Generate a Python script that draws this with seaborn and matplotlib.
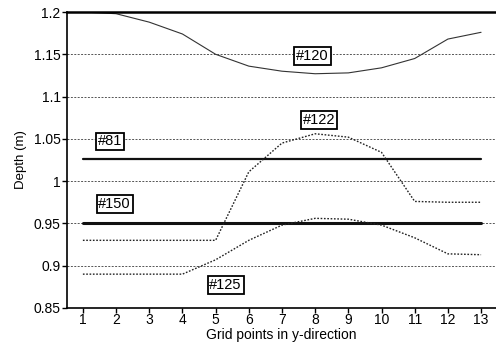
import matplotlib
matplotlib.use("Agg")
import matplotlib.pyplot as plt
import seaborn as sns
import pandas as pd
import numpy as np

grid_points = list(range(1, 14))
s120 = [1.200, 1.198, 1.188, 1.174, 1.150, 1.136, 1.130, 1.127, 1.128, 1.134, 1.145, 1.168, 1.176]
s81 = [1.026] * 13
s150 = [0.950] * 13
s122 = [0.930, 0.930, 0.930, 0.930, 0.930, 1.011, 1.045, 1.056, 1.052, 1.034, 0.976, 0.975, 0.975]
s125 = [0.890, 0.890, 0.890, 0.890, 0.907, 0.930, 0.948, 0.956, 0.955, 0.948, 0.933, 0.914, 0.913]

labels = ["#120", "#81", "#150", "#122", "#125"]
series = [s120, s81, s150, s122, s125]
label_pos = {"#120": (7.92, 1.148), "#81": (1.81, 1.047), "#150": (1.96, 0.973),
             "#122": (8.13, 1.072), "#125": (5.30, 0.877)}
yticks = [0.85, 0.9, 0.95, 1.0, 1.05, 1.1, 1.15, 1.2]
ytick_labels = ["0.85", "0.9", "0.95", "1", "1.05", "1.1", "1.15", "1.2"]

df = pd.concat([pd.DataFrame({"x": grid_points, "depth": s, "case": lab})
                for lab, s in zip(labels, series)], ignore_index=True)

sns.set_theme(style="white")
plt.rcParams['font.family'] = ['Liberation Sans', 'DejaVu Sans']

fig = plt.figure(figsize=(4.96, 3.48), dpi=100)
ax = fig.add_axes([0.135, 0.115, 0.865, 0.8505])

styles = {"#120": dict(lw=0.8, ls="-", color="#333333"),
          "#81": dict(lw=1.6, ls="-", color="#111111"),
          "#150": dict(lw=2.2, ls="-", color="#111111"),
          "#122": dict(lw=1.0, ls=(0, (1.2, 1.2)), color="#222222"),
          "#125": dict(lw=1.0, ls=(0, (1.2, 1.2)), color="#222222")}

for lab in labels:
    sub = df[df["case"] == lab]
    sns.lineplot(data=sub, x="x", y="depth", ax=ax, legend=False, **styles[lab])

for lab in labels:
    x, y = label_pos[lab]
    ax.text(x, y, lab, ha="center", va="center", fontsize=10.5, color="black",
            bbox=dict(boxstyle="square,pad=0.12", fc="white", ec="black", lw=1.3))

ax.set_xlim(0.52, 13.45)
ax.set_ylim(0.85, 1.2)
ax.set_xticks(grid_points)
ax.set_xticklabels([str(g) for g in grid_points])
ax.set_yticks(yticks)
ax.set_yticklabels(ytick_labels)
for yv in yticks[1:-1]:
    ax.axhline(yv, color="#555555", lw=0.7, ls=(0, (2, 1.5)), zorder=0)

ax.spines["right"].set_visible(False)
for sp in ["left", "bottom"]:
    ax.spines[sp].set_color("black")
    ax.spines[sp].set_linewidth(1.2)
ax.spines["top"].set_color("black")
ax.spines["top"].set_linewidth(1.8)

ax.tick_params(axis="both", direction="out", length=3.5, width=1, color="black",
               labelsize=10, labelcolor="black", pad=1, left=True, bottom=True)
ax.tick_params(axis="x", pad=0)
ax.set_xlabel("Grid points in y-direction", fontsize=10, color="black", labelpad=1)
ax.set_ylabel("Depth (m)", fontsize=9.5, color="black", labelpad=5)

fig.savefig("out.png", dpi=100)
